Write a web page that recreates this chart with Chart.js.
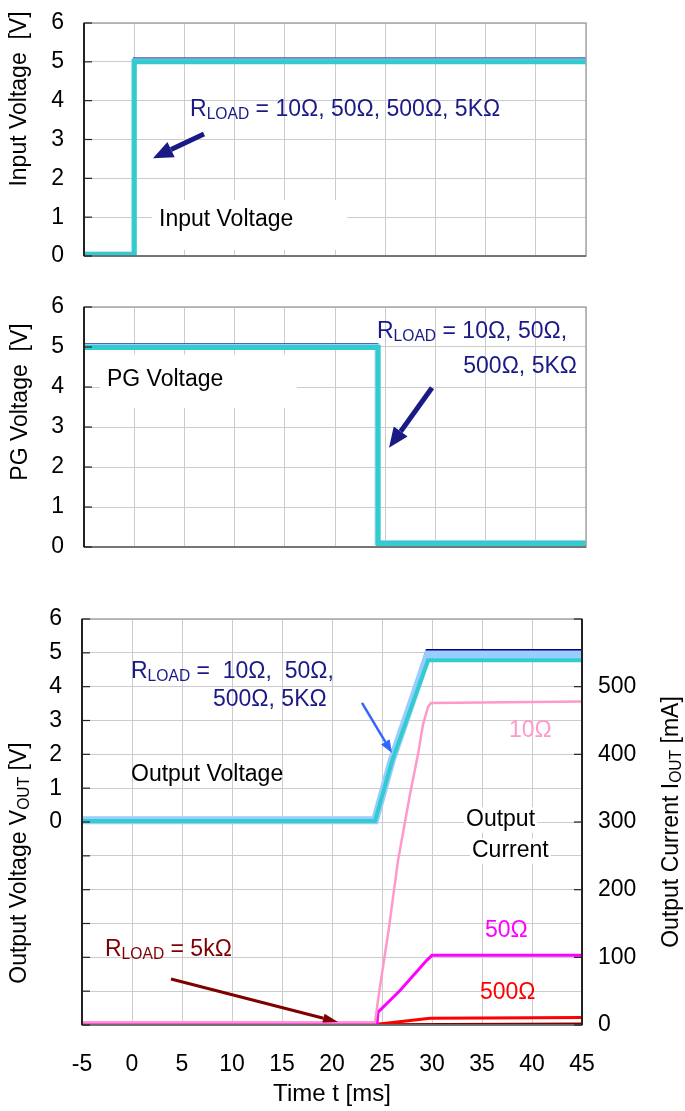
<!DOCTYPE html>
<html>
<head>
<meta charset="utf-8">
<script src="https://cdn.jsdelivr.net/npm/chart.js@4.4.0/dist/chart.umd.min.js"></script>
<style>
  body { margin: 0; background: #fff; width: 685px; height: 1111px; overflow: hidden; position: relative; }
  canvas { position: absolute; left: 0; }
</style>
</head>
<body>
<canvas id="c1" width="685" height="275" style="top:0px"></canvas>
<canvas id="c2" width="685" height="280" style="top:285px"></canvas>
<canvas id="c3" width="685" height="511" style="top:600px"></canvas>
<script>
// Input voltage step (time in ms, volts)
var tIn = [-5, 0, 0, 45];
var vInNavy = [0.07, 0.07, 5.08, 5.08];
var vInLBlue = [0.05, 0.05, 5.03, 5.03];
var vInTeal = [0.04, 0.04, 5.0, 5.0];

// PG voltage drop
var tPg = [-5, 24.2, 24.2, 45];
var tPgTeal = [-5, 24.3, 24.3, 45];
var vPgNavy = [5.06, 5.06, 0.14, 0.14];
var vPgLBlue = [5.02, 5.02, 0.11, 0.11];
var vPgTeal = [4.99, 4.99, 0.09, 0.09];

// Output voltage ramp
var tOutNavy = [-5, 24.2, 26.0, 29.5, 45];
var vOutNavy = [0.0, 0.0, 1.9, 5.07, 5.07];
var tOut = [-5, 24.3, 26.0, 29.6, 45];
var vOutLBlue = [0.05, 0.05, 1.85, 4.95, 4.95];
var vOutTeal = [0.03, 0.03, 1.8, 4.78, 4.78];

// Output current (mA) per load
var tI10 = [-5, 24.3, 24.7, 25.7, 26.6, 27.8, 28.6, 29.1, 29.6, 29.9, 45];
var iOut10 = [4, 4, 47, 144, 243, 341, 400, 444, 470, 476, 478];
var tI50 = [-5, 24.5, 24.6, 26.8, 29.5, 30.0, 45];
var iOut50 = [2, 2, 19, 51, 96, 103, 103];
var tI500 = [-5, 24.5, 29.8, 45];
var iOut500 = [1, 1, 10, 11];
var tI5k = [-5, 24.5, 45];
var iOut5k = [0.5, 0.5, 1.5];

var FONT = "'Liberation Sans', Arial, sans-serif";
Chart.defaults.font.family = FONT;
Chart.defaults.font.size = 23;
Chart.defaults.color = '#000';

var NAVY = '#000080', LBLUE = '#99ccff', TEAL = '#33cccc';
var TXT_NAVY = '#1a1a86';
var GRID = '#cccccc';
var NONE = 'rgba(0,0,0,0)';

function pts(xs, ys) {
  return xs.map(function (x, i) { return { x: x, y: ys[i] }; });
}

function line(data, color, width, axis) {
  var ds = { data: data, borderColor: color, borderWidth: width, pointRadius: 0, tension: 0, fill: false };
  if (axis) ds.yAxisID = axis;
  return ds;
}

function parseRich(s) {
  var out = [], re = /_\{([^}]*)\}/g, last = 0, m;
  while ((m = re.exec(s))) {
    if (m.index > last) out.push({ t: s.slice(last, m.index) });
    out.push({ t: m[1], sub: true });
    last = re.lastIndex;
  }
  if (last < s.length) out.push({ t: s.slice(last) });
  return out;
}

function drawRich(ctx, s, x, y, size, color, align, bgOnly) {
  var runs = parseRich(s), w = 0;
  runs.forEach(function (r) {
    ctx.font = (r.sub ? size * 0.68 : size) + 'px ' + FONT;
    r.w = ctx.measureText(r.t).width;
    w += r.w;
  });
  var cx = align === 'right' ? x - w : align === 'center' ? x - w / 2 : x;
  if (bgOnly) {
    ctx.fillStyle = '#fff';
    ctx.fillRect(cx - 2, y - size * 0.55, w + 4, size * 1.1);
    return;
  }
  ctx.fillStyle = color;
  ctx.textBaseline = 'middle';
  ctx.textAlign = 'left';
  runs.forEach(function (r) {
    ctx.font = (r.sub ? size * 0.68 : size) + 'px ' + FONT;
    ctx.fillText(r.t, cx, y + (r.sub ? size * 0.22 : 0));
    cx += r.w;
  });
}

function drawArrow(ctx, x1, y1, x2, y2, color, w, hl, hw) {
  var a = Math.atan2(y2 - y1, x2 - x1);
  var bx = x2 - hl * Math.cos(a), by = y2 - hl * Math.sin(a);
  ctx.strokeStyle = color;
  ctx.fillStyle = color;
  ctx.lineWidth = w;
  ctx.beginPath(); ctx.moveTo(x1, y1); ctx.lineTo(bx, by); ctx.stroke();
  ctx.beginPath();
  ctx.moveTo(x2, y2);
  ctx.lineTo(bx + hw / 2 * Math.sin(a), by - hw / 2 * Math.cos(a));
  ctx.lineTo(bx - hw / 2 * Math.sin(a), by + hw / 2 * Math.cos(a));
  ctx.closePath();
  ctx.fill();
}

// frame, inward ticks, notes, arrows and axis titles
function deco(spec) {
  return {
    id: 'deco',
    beforeDatasetsDraw: function (chart) {
      var ctx = chart.ctx, xs = chart.scales.x, ys = chart.scales.y;
      ctx.save();
      ctx.fillStyle = '#fff';
      (spec.boxes || []).forEach(function (b) {
        var x1 = xs.getPixelForValue(b[0]), x2 = xs.getPixelForValue(b[1]);
        var y1 = ys.getPixelForValue(b[2]), y2 = ys.getPixelForValue(b[3]);
        ctx.fillRect(x1, y1, x2 - x1, y2 - y1);
      });
      (spec.notes || []).forEach(function (n) {
        if (n.bg) drawRich(ctx, n.text, xs.getPixelForValue(n.x), ys.getPixelForValue(n.y), n.size || 23, n.color, n.align, true);
      });
      ctx.restore();
    },
    afterDatasetsDraw: function (chart) {
      var ctx = chart.ctx, a = chart.chartArea, xs = chart.scales.x, ys = chart.scales.y;
      ctx.save();
      ctx.strokeStyle = '#a6a6a6';
      ctx.lineWidth = 1.5;
      ctx.strokeRect(a.left, a.top, a.right - a.left, a.bottom - a.top);
      ctx.strokeStyle = '#606060';
      ctx.beginPath(); ctx.moveTo(a.left, a.bottom); ctx.lineTo(a.right, a.bottom); ctx.stroke();
      ctx.strokeStyle = '#222';
      ctx.lineWidth = 2;
      ctx.beginPath(); ctx.moveTo(a.left, a.top); ctx.lineTo(a.left, a.bottom); ctx.stroke();
      ctx.lineWidth = 1.2;
      ys.ticks.forEach(function (t) {
        var y = ys.getPixelForValue(t.value);
        ctx.beginPath(); ctx.moveTo(a.left, y); ctx.lineTo(a.left + 8, y); ctx.stroke();
      });
      if (chart.scales.y1) {
        var y1s = chart.scales.y1;
        ctx.lineWidth = 2;
        ctx.beginPath(); ctx.moveTo(a.right, a.top); ctx.lineTo(a.right, a.bottom); ctx.stroke();
        ctx.lineWidth = 1.2;
        y1s.ticks.forEach(function (t) {
          var y = y1s.getPixelForValue(t.value);
          ctx.beginPath(); ctx.moveTo(a.right - 8, y); ctx.lineTo(a.right, y); ctx.stroke();
        });
      }
      (spec.arrows || []).forEach(function (r) {
        drawArrow(ctx, xs.getPixelForValue(r.from[0]), ys.getPixelForValue(r.from[1]),
          xs.getPixelForValue(r.to[0]), ys.getPixelForValue(r.to[1]), r.color, r.w, r.hl, r.hw);
      });
      (spec.notes || []).forEach(function (n) {
        drawRich(ctx, n.text, xs.getPixelForValue(n.x), ys.getPixelForValue(n.y), n.size || 23, n.color, n.align);
      });
      ctx.restore();
    },
    afterDraw: function (chart) {
      var ctx = chart.ctx;
      (spec.titles || []).forEach(function (t) {
        ctx.save();
        ctx.translate(t.x, t.y);
        ctx.rotate(-Math.PI / 2);
        drawRich(ctx, t.text, 0, 0, 23, '#000', 'center');
        ctx.restore();
      });
    }
  };
}

function baseOptions(padTop, padRight) {
  return {
    responsive: false,
    animation: false,
    devicePixelRatio: 1,
    layout: { padding: { top: padTop, right: padRight, left: 0, bottom: 0 } },
    plugins: { legend: { display: false }, tooltip: { enabled: false } }
  };
}

// label gap is made with an invisible tick mark, so it does not shrink the plot
function voltAxis(min, width, cb) {
  return {
    min: min, max: 6,
    ticks: { stepSize: 1, padding: 0, callback: cb },
    grid: { color: GRID, drawTicks: true, tickLength: 20, tickColor: NONE },
    border: { display: false },
    afterFit: function (s) { s.width = width; }
  };
}

function timeAxis(height, showTicks) {
  return {
    type: 'linear', min: -5, max: 45,
    ticks: { display: showTicks, stepSize: 5, padding: 0 },
    grid: { color: GRID, drawTicks: showTicks, tickLength: 26, tickColor: NONE },
    border: { display: false },
    afterFit: function (s) { s.height = height; }
  };
}

// Chart 1: input voltage
var opt1 = baseOptions(23, 99);
opt1.scales = { x: timeAxis(19, false), y: voltAxis(0, 84) };
new Chart(document.getElementById('c1'), {
  type: 'line',
  data: { datasets: [
    line(pts(tIn, vInTeal), TEAL, 5),
    line(pts(tIn, vInLBlue), LBLUE, 5),
    line(pts(tIn, vInNavy), NAVY, 2.5)
  ] },
  options: opt1,
  plugins: [deco({
    boxes: [[1.77, 21.2, 1.44, 0.16]],
    notes: [
      { x: 5.56, y: 3.76, text: 'R_{LOAD} = 10Ω, 50Ω, 500Ω, 5KΩ', color: TXT_NAVY },
      { x: 2.47, y: 0.93, text: 'Input Voltage', color: '#000' }
    ],
    arrows: [{ from: [6.95, 3.14], to: [1.87, 2.52], color: TXT_NAVY, w: 5, hl: 20, hw: 17 }],
    titles: [{ text: 'Input Voltage  [V]', x: 20, y: 99 }]
  })]
});

// Chart 2: PG voltage
var opt2 = baseOptions(22, 99);
opt2.scales = { x: timeAxis(18, false), y: voltAxis(0, 84) };
new Chart(document.getElementById('c2'), {
  type: 'line',
  data: { datasets: [
    line(pts(tPgTeal, vPgTeal), TEAL, 5),
    line(pts(tPg, vPgLBlue), LBLUE, 5),
    line(pts(tPg, vPgNavy), NAVY, 2.5)
  ] },
  options: opt2,
  plugins: [deco({
    boxes: [[-3.41, 16.2, 4.81, 3.48]],
    notes: [
      { x: 24.18, y: 5.38, text: 'R_{LOAD} = 10Ω, 50Ω,', color: TXT_NAVY },
      { x: 44.1, y: 4.51, text: '500Ω, 5KΩ', color: TXT_NAVY, align: 'right' },
      { x: -2.71, y: 4.18, text: 'PG Voltage', color: '#000' }
    ],
    arrows: [{ from: [29.66, 3.98], to: [25.38, 2.48], color: TXT_NAVY, w: 5, hl: 20, hw: 17 }],
    titles: [{ text: 'PG Voltage  [V]', x: 21, y: 117 }]
  })]
});

// Chart 3: output voltage and current
var opt3 = baseOptions(19, 0);
var x3 = timeAxis(86, true);
x3.title = { display: true, text: 'Time t [ms]', font: { size: 24 }, padding: { top: 0, bottom: 2 } };
opt3.scales = {
  x: x3,
  y: voltAxis(-6, 82, function (v) { return v >= 0 ? v : ''; }),
  y1: { position: 'right', min: 0, max: 600,
        ticks: { stepSize: 100, padding: 0, callback: function (v) { return v <= 500 ? v : ''; } },
        grid: { display: true, drawOnChartArea: false, drawTicks: true, tickLength: 16, tickColor: NONE },
        border: { display: false },
        afterFit: function (s) { s.width = 103; } }
};
new Chart(document.getElementById('c3'), {
  type: 'line',
  data: { datasets: [
    line(pts(tOut, vOutTeal), TEAL, 4),
    line(pts(tOut, vOutLBlue), LBLUE, 8),
    line(pts(tOutNavy, vOutNavy), NAVY, 3),
    line(pts(tI10, iOut10), '#ff99cc', 2.5, 'y1'),
    line(pts(tI50, iOut50), '#ff00ff', 3, 'y1'),
    line(pts(tI500, iOut500), '#ff0000', 3, 'y1'),
    line(pts(tI5k, iOut5k), '#800000', 3, 'y1')
  ] },
  options: opt3,
  plugins: [deco({
    notes: [
      { x: -0.1, y: 4.43, text: 'R_{LOAD} =  10Ω,  50Ω,', color: TXT_NAVY },
      { x: 8.1, y: 3.61, text: '500Ω, 5KΩ', color: TXT_NAVY },
      { x: -0.1, y: 1.39, text: 'Output Voltage', color: '#000' },
      { x: 37.7, y: 2.69, text: '10Ω', color: '#ff99cc' },
      { x: 33.4, y: 0.06, text: 'Output', color: '#000', bg: true },
      { x: 34.0, y: -0.86, text: 'Current', color: '#000', bg: true },
      { x: 35.3, y: -3.22, text: '50Ω', color: '#ff00ff' },
      { x: 34.8, y: -5.05, text: '500Ω', color: '#ff0000' },
      { x: -2.7, y: -3.78, text: 'R_{LOAD} = 5kΩ', color: '#800000' }
    ],
    arrows: [
      { from: [23.0, 3.52], to: [26.0, 2.04], color: '#3366ff', w: 2.5, hl: 13, hw: 10 },
      { from: [3.9, -4.64], to: [20.6, -5.91], color: '#800000', w: 3, hl: 15, hw: 9 }
    ],
    titles: [
      { text: 'Output Voltage V_{OUT} [V]', x: 20, y: 263 },
      { text: 'Output Current I_{OUT} [mA]', x: 672, y: 222 }
    ]
  })]
});
</script>
</body>
</html>
